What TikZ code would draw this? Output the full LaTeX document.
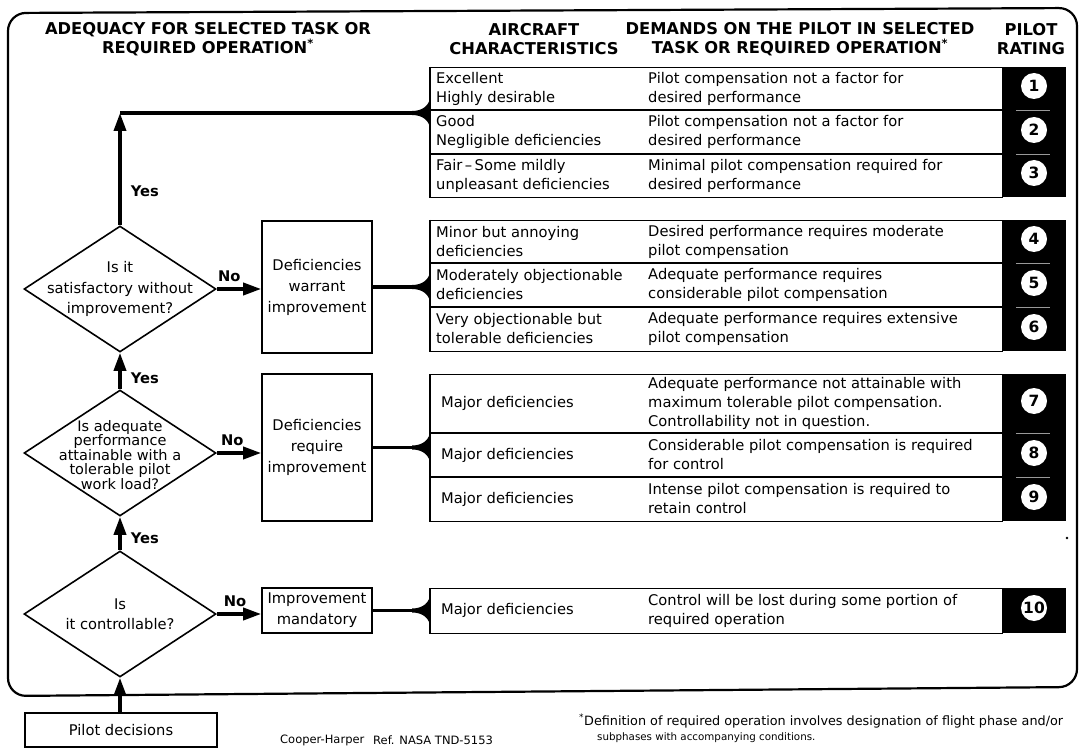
\documentclass[tikz,border=0pt]{standalone}
\usepackage{fontspec}
\setmainfont{DejaVu Sans}
\usepackage{tikz}
\usetikzlibrary{arrows.meta, shapes.geometric, positioning}
\definecolor{lightgray}{rgb}{0.6, 0.6, 0.6}

% black fillet where a connector meets a table
\newcommand{\flare}[1]{%
  \fill[shift={(#1)}] (-18,-2) .. controls (-7,-2) and (0,-8) .. (0,-17)
    -- (0,17) .. controls (0,8) and (-7,2) .. (-18,2) -- cycle;}

\tikzset{
  hdr/.style={font=\bfseries\fontsize{16.3}{19}\selectfont, align=center, inner sep=0pt},
  cell/.style={font=\fontsize{14.7}{19}\selectfont, anchor=west, align=left, inner sep=0pt},
  qtext/.style={font=\fontsize{14.7}{20.5}\selectfont, align=center, inner sep=0pt},
  qtight/.style={font=\fontsize{14.5}{14.5}\selectfont, align=center, inner sep=0pt},
  question/.style={diamond, draw, line width=1.6pt, minimum width=192pt, minimum height=126pt, inner sep=0pt},
  action/.style={rectangle, draw, line width=1.6pt, minimum width=110pt, inner sep=0pt, align=center, font=\fontsize{14.7}{21}\selectfont},
  ratingtable/.style={rectangle, draw, line width=1.4pt, minimum width=572pt, inner sep=0pt},
  rating/.style={circle, fill=white, inner sep=0pt, minimum size=26pt, font=\bfseries\fontsize{15.5}{15.5}\selectfont},
  conn/.style={line width=3.6pt},
  flow/.style={conn, -{Triangle[length=18pt, width=12pt]}},
  yesno/.style={font=\bfseries\fontsize{14.7}{15}\selectfont, inner sep=0pt},
  small/.style={font=\fontsize{11.5}{14}\selectfont, anchor=west, inner sep=0pt},
  note/.style={font=\fontsize{10.3}{12}\selectfont, anchor=west, inner sep=0pt},
}

\begin{document}
\begin{tikzpicture}[x=1pt, y=-1pt]
  \useasboundingbox (0,0) rectangle (1080,749);

  % draws the frame
  \draw[line width=2.2pt, rounded corners=18pt] (8,13) -- (1077,8) -- (1077,687) -- (8,696) -- cycle;

  % draws the headings
  \node[hdr] (hadeq) at (208,39) {ADEQUACY FOR SELECTED TASK OR\\REQUIRED OPERATION\textsuperscript{*}};
  \node[hdr] (hchar) at (534,39) {AIRCRAFT\\CHARACTERISTICS};
  \node[hdr] (hdem) at (800,39) {DEMANDS ON THE PILOT IN SELECTED\\TASK OR REQUIRED OPERATION\textsuperscript{*}};
  \node[hdr] (hrat) at (1031,39) {PILOT\\RATING};

  % draws the tables
  \foreach \t/\ya/\yb in {1/67/197, 2/220/351, 3/374/521, 4/588/633} {
    \node[ratingtable, minimum height={(\yb-\ya)*1pt}, anchor=north west] (t\t) at (430,\ya) {};
    \fill (1002,\ya) rectangle (1066,\yb);
    \draw[line width=2.6pt] (t\t.north west) -- (t\t.south west);
  }
  \foreach \y in {110,154,263,307,433,477} {
    \draw[line width=1.4pt] (430,\y) -- (1002,\y);
    \draw[lightgray, line width=0.7pt] (1016,\y) -- (1050,\y);
  }
  \fill (1067,538) circle (1.3pt);

  % draws the row texts
  \foreach \y/\x/\a/\b [count=\i] in {
    88.5/436/{Excellent\\Highly desirable}/{Pilot compensation not a factor for\\desired performance},
    132/436/{Good\\Negligible deficiencies}/{Pilot compensation not a factor for\\desired performance},
    175.5/436/{Fair\,--\,Some mildly\\unpleasant deficiencies}/{Minimal pilot compensation required for\\desired performance},
    241.5/436/{Minor but annoying\\deficiencies}/{Desired performance requires moderate\\pilot compensation},
    285/436/{Moderately objectionable\\deficiencies}/{Adequate performance requires\\considerable pilot compensation},
    329/436/{Very objectionable but\\tolerable deficiencies}/{Adequate performance requires extensive\\pilot compensation},
    403.5/441/{Major deficiencies}/{Adequate performance not attainable with\\maximum tolerable pilot compensation.\\Controllability not in question.},
    455/441/{Major deficiencies}/{Considerable pilot compensation is required\\for control},
    499/441/{Major deficiencies}/{Intense pilot compensation is required to\\retain control},
    610.5/441/{Major deficiencies}/{Control will be lost during some portion of\\required operation}} {
    \node[cell] (ac\i) at (\x,\y) {\a};
    \node[cell] (dm\i) at (648,\y) {\b};
  }

  % draws the ratings
  \foreach \n/\y in {1/86, 2/130, 3/173, 4/239, 5/283, 6/327, 7/401, 8/453, 9/497, 10/608}
    \node[rating] (r\n) at (1034,\y) {\n};

  % draws the decisions
  \node[question] (q1) at (120,289) {};
  \node[qtext] (q1t) at (q1) {Is it\\satisfactory without\\improvement?};
  \node[question] (q2) at (120,453) {};
  \node[qtight] (q2t) at (120,455) {Is adequate\\performance\\attainable with a\\tolerable pilot\\work load?};
  \node[question] (q3) at (120,614) {};
  \node[qtext] (q3t) at (q3) {Is\\it controllable?};

  \node[action, minimum height=132pt] (b1) at (317,287) {Deficiencies\\warrant\\improvement};
  \node[action, minimum height=147pt] (b2) at (317,447.5) {Deficiencies\\require\\improvement};
  \node[action, minimum height=45pt] (b3) at (317,610.5) {Improvement\\mandatory};
  \node[action, minimum width=192pt, minimum height=34pt] (pd) at (121,730) {Pilot decisions};

  % draws the connectors
  \coordinate (top) at (120,113);
  \draw[flow] (q1.north) -- node[yesno, right=9pt, pos=0.3] (yes1) {Yes} (top);
  \draw[conn] (top) -- (t1.west |- top);
  \flare{t1.west |- top}
  \draw[flow] (q2.north) -- node[yesno, right=9pt, pos=0.3] (yes2) {Yes} (q1.south);
  \draw[flow] (q3.north) -- node[yesno, right=9pt, pos=0.35] (yes3) {Yes} (q2.south);
  \draw[flow] (pd.north -| q3.south) -- (q3.south);
  \draw[flow] (q1.east) -- node[yesno, above=5pt, pos=0.28] (no1) {No} (q1.east -| b1.west);
  \draw[flow] (q2.east) -- node[yesno, above=5pt, pos=0.35] (no2) {No} (q2.east -| b2.west);
  \draw[flow] (q3.east) -- node[yesno, above=5pt, pos=0.41] (no3) {No} (q3.east -| b3.west);
  \foreach \b/\t in {b1/t2, b2/t3, b3/t4} {
    \draw[conn] (\b.east) -- (\t.west |- \b.east);
    \flare{\t.west |- \b.east}
  }

  % draws the notes
  \node[small] (ch) at (280,740) {Cooper-Harper};
  \node[small] (ref) at (373,740) {Ref. NASA TND-5153};
  \node[note, font=\fontsize{12.8}{14}\selectfont] (fn1) at (579,721) {\textsuperscript{*}Definition of required operation involves designation of flight phase and/or};
  \node[note] (fn2) at (597,738) {subphases with accompanying conditions.};
\end{tikzpicture}
\end{document}
